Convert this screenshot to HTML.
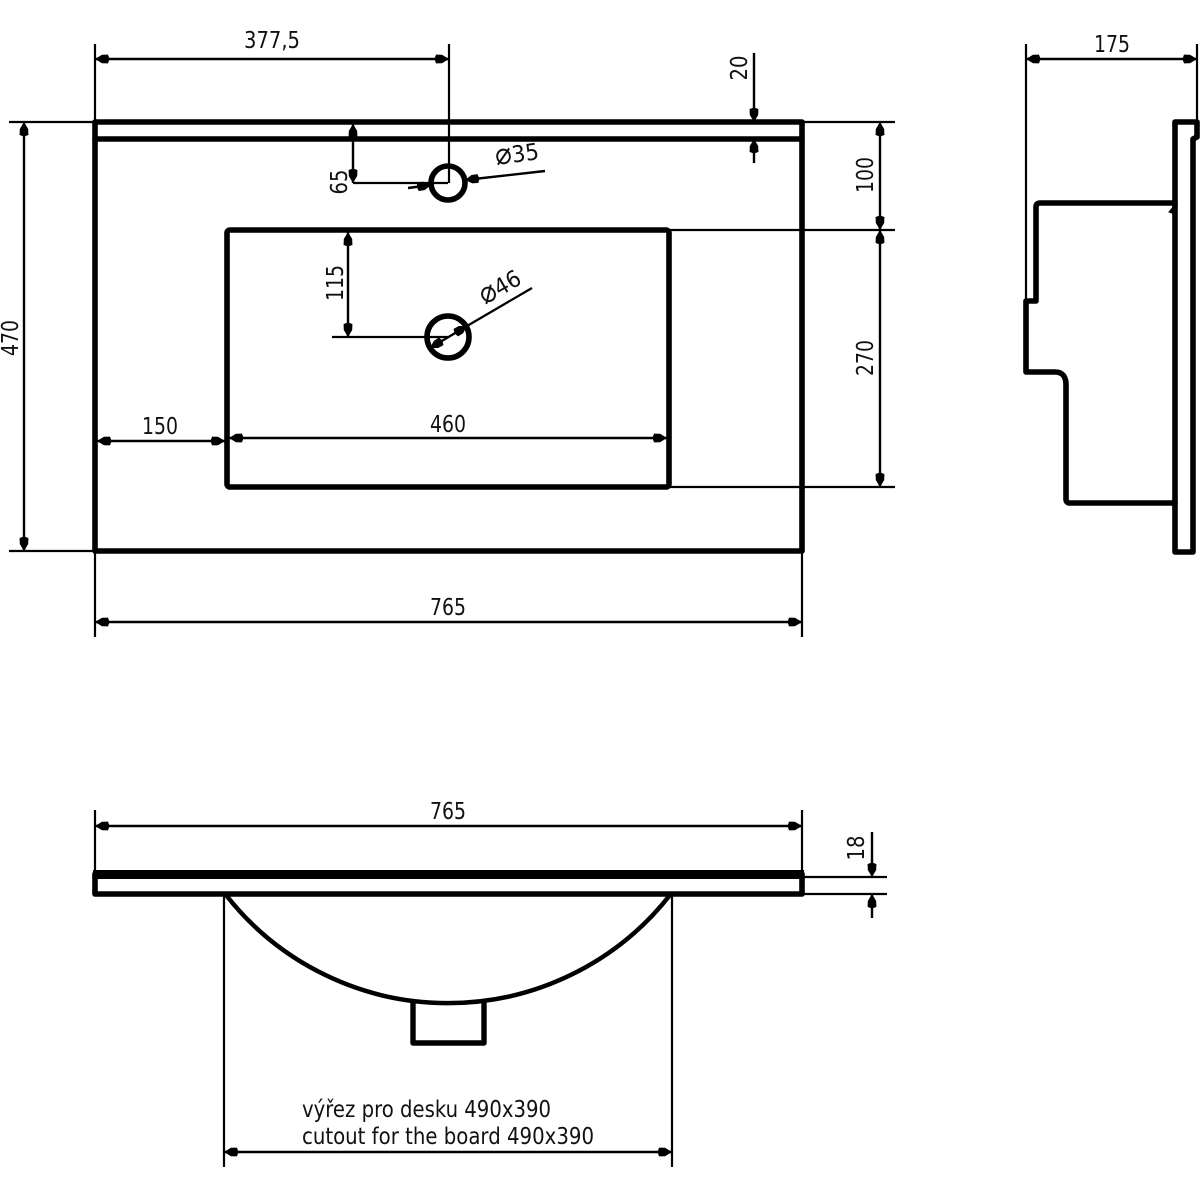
<!DOCTYPE html>
<html><head><meta charset="utf-8"><style>
html,body{margin:0;padding:0;background:#fff}
svg{display:block}
text{font-family:"DejaVu Sans","Liberation Sans",sans-serif;font-size:23px;fill:#111;text-anchor:middle}
.d{fill:none;stroke:#000;stroke-width:2.4}
.x{fill:none;stroke:#000;stroke-width:2.2}
.o{fill:none;stroke:#000;stroke-width:5.6;stroke-linejoin:round;stroke-linecap:round}
.p{font-size:30px}
</style></head><body>
<svg width="1200" height="1200" viewBox="0 0 1200 1200" xmlns="http://www.w3.org/2000/svg">
<defs>
<marker id="a" markerUnits="userSpaceOnUse" markerWidth="16" markerHeight="12" refX="15" refY="6" orient="auto-start-reverse"><path d="M15 6L8 1.8L2 1.6L0.5 6L2 10.4L8 10.2Z" fill="#000"/></marker>
</defs>
<rect width="1200" height="1200" fill="#fff"/>

<!-- top view outline -->
<rect class="o" x="95" y="122" width="707" height="429"/>
<path class="o" d="M95 139H802"/>
<rect class="o" x="227" y="230" width="442" height="257" rx="3"/>
<circle class="o" cx="448" cy="183" r="17"/>
<circle class="o" cx="448" cy="337" r="21"/>

<!-- extension lines -->
<path class="x" d="M95 44V122M449 44V183M802 122H895M669 230H895M669 487H895M9 122H95M9 551H95M95 551V637M802 551V637M353 183H448"/>
<!-- dimension lines -->
<path class="d" marker-start="url(#a)" marker-end="url(#a)" d="M95 59H449"/>
<path class="d" marker-start="url(#a)" marker-end="url(#a)" d="M24 122V551"/>
<path class="d" marker-start="url(#a)" marker-end="url(#a)" d="M95 622H802"/>
<path class="d" marker-start="url(#a)" marker-end="url(#a)" d="M880 122V230"/>
<path class="d" marker-start="url(#a)" marker-end="url(#a)" d="M880 230V487"/>
<path class="d" marker-start="url(#a)" marker-end="url(#a)" d="M97 441H225"/>
<path class="d" marker-start="url(#a)" marker-end="url(#a)" d="M229 438H667"/>
<path class="d" marker-start="url(#a)" marker-end="url(#a)" d="M353 124V183"/>
<path class="d" marker-start="url(#a)" marker-end="url(#a)" d="M348 232V337"/>
<path class="x" d="M332 337H448"/>
<path class="d" marker-end="url(#a)" d="M754 53V122"/>
<path class="d" marker-end="url(#a)" d="M754 163V139"/>
<path class="d" marker-end="url(#a)" d="M408 188L431 185"/>
<path class="d" marker-end="url(#a)" d="M545 171L465 180"/>
<path class="d" marker-start="url(#a)" marker-end="url(#a)" d="M430 348L467 326"/>
<path class="x" d="M467 326L532 288"/>

<!-- top view labels -->
<text x="272" y="48" textLength="56" lengthAdjust="spacingAndGlyphs">377,5</text>
<text x="1112" y="52" textLength="36" lengthAdjust="spacingAndGlyphs">175</text>
<text x="160" y="434" textLength="36" lengthAdjust="spacingAndGlyphs">150</text>
<text x="448" y="432" textLength="36" lengthAdjust="spacingAndGlyphs">460</text>
<text x="448" y="615" textLength="36" lengthAdjust="spacingAndGlyphs">765</text>
<text x="448" y="819" textLength="36" lengthAdjust="spacingAndGlyphs">765</text>
<text transform="translate(747,68) rotate(-90)" textLength="25" lengthAdjust="spacingAndGlyphs">20</text>
<text transform="translate(873,175) rotate(-90)" textLength="36" lengthAdjust="spacingAndGlyphs">100</text>
<text transform="translate(873,358) rotate(-90)" textLength="36" lengthAdjust="spacingAndGlyphs">270</text>
<text transform="translate(18,338) rotate(-90)" textLength="36" lengthAdjust="spacingAndGlyphs">470</text>
<text transform="translate(347,182) rotate(-90)" textLength="25" lengthAdjust="spacingAndGlyphs">65</text>
<text transform="translate(343,283) rotate(-90)" textLength="36" lengthAdjust="spacingAndGlyphs">115</text>
<text transform="translate(864,848) rotate(-90)" textLength="25" lengthAdjust="spacingAndGlyphs">18</text>
<text transform="translate(518,162) rotate(-8)" textLength="44" lengthAdjust="spacingAndGlyphs"><tspan class="p">⌀</tspan>35</text>
<text transform="translate(504,294) rotate(-30)" textLength="44" lengthAdjust="spacingAndGlyphs"><tspan class="p">⌀</tspan>46</text>

<!-- side view -->
<path class="o" d="M1175 552V122H1197V137L1193 139V552Z"/>
<path class="o" d="M1175 203H1040Q1036 203 1036 207V301H1026V372H1055Q1066 372 1066 385V499Q1066 503 1070 503H1175"/>
<path d="M1169 212L1173 207L1175 214Z" fill="#000" stroke="#000"/>
<path class="x" d="M1026 44V300M1197 44V122"/>
<path class="d" marker-start="url(#a)" marker-end="url(#a)" d="M1026 59H1197"/>

<!-- front view -->
<rect x="93" y="870" width="711" height="9" fill="#000"/>
<path class="o" d="M95 874V894H802V874"/>
<path class="x" d="M95 810V870M802 810V870M802 877H887M802 894H887M224 893V1167M672 893V1167"/>
<path class="d" marker-start="url(#a)" marker-end="url(#a)" d="M95 826H802"/>
<path class="d" marker-end="url(#a)" d="M872 832V877"/>
<path class="d" marker-end="url(#a)" d="M872 918V894"/>
<path class="d" marker-start="url(#a)" marker-end="url(#a)" d="M224 1152H672"/>
<path d="M226 895A282 282 0 0 0 670 895" fill="none" stroke="#000" stroke-width="4.5"/>
<path d="M413 1000V1043H484V1000" fill="none" stroke="#000" stroke-width="5.4" stroke-linejoin="round"/>
<text x="302" y="1117" style="text-anchor:start" textLength="249" lengthAdjust="spacingAndGlyphs">výřez pro desku 490x390</text>
<text x="302" y="1144" style="text-anchor:start" textLength="292" lengthAdjust="spacingAndGlyphs">cutout for the board 490x390</text>
</svg>
</body></html>
